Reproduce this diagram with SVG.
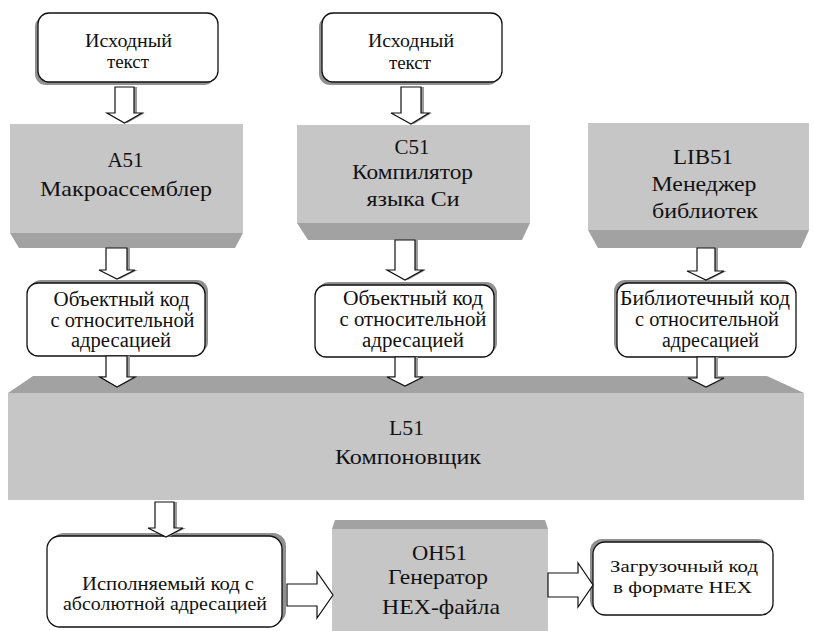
<svg xmlns="http://www.w3.org/2000/svg" width="814" height="631" viewBox="0 0 814 631" font-family="Liberation Serif, DejaVu Serif, serif">
  <defs>
    <style>
      text { font-family: 'Liberation Serif', 'DejaVu Serif', serif; fill: #111; text-anchor: middle; }
      .t19 { font-size: 19px; }
      .t20 { font-size: 20px; }
      .t21 { font-size: 21px; }
      .t17 { font-size: 17px; }
      .face { fill: #c6c6c6; }
      .bevel { fill: #a2a2a2; }
      .card { fill: #ffffff; stroke: #111; stroke-width: 1.3; }
      .shade { fill: #909090; }
      .arrow { fill: #ffffff; stroke: #111; stroke-width: 1.2; stroke-linejoin: miter; }
      .ashade { fill: #9a9a9a; }
    </style>
  </defs>
  <rect width="814" height="631" fill="#ffffff"/>

  <!-- source text, left -->
  <g id="src1">
    <rect class="shade" x="35" y="16" width="180" height="69" rx="11"/>
    <rect class="card" x="38" y="13" width="180" height="69" rx="11"/>
    <text class="t19" x="128.5" y="46.5" textLength="87" lengthAdjust="spacingAndGlyphs">Исходный</text>
    <text class="t19" x="128" y="68">текст</text>
  </g>

  <!-- source text, middle -->
  <g id="src2">
    <rect class="shade" x="319" y="16" width="180" height="69" rx="11"/>
    <rect class="card" x="322" y="13" width="180" height="69" rx="11"/>
    <text class="t19" x="411" y="47" textLength="86" lengthAdjust="spacingAndGlyphs">Исходный</text>
    <text class="t19" x="410" y="69">текст</text>
  </g>

  <!-- A51 -->
  <g id="a51">
    <rect class="face" x="10" y="124" width="233" height="109"/>
    <polygon class="bevel" points="10,233 243,233 235,248 19,248"/>
    <text class="t21" x="125.5" y="167">A51</text>
    <text class="t21" x="126" y="196" textLength="172" lengthAdjust="spacingAndGlyphs">Макроассемблер</text>
  </g>

  <!-- C51 -->
  <g id="c51">
    <rect class="face" x="297" y="125" width="233" height="98"/>
    <polygon class="bevel" points="297,223 530,223 522,240 308,240"/>
    <text class="t21" x="412" y="154">C51</text>
    <text class="t21" x="412.5" y="179" textLength="121" lengthAdjust="spacingAndGlyphs">Компилятор</text>
    <text class="t21" x="413" y="206" textLength="93" lengthAdjust="spacingAndGlyphs">языка Си</text>
  </g>

  <!-- LIB51 -->
  <g id="lib51">
    <rect class="face" x="588" y="123" width="221" height="107"/>
    <polygon class="bevel" points="588,230 809,230 801,248 598,248"/>
    <text class="t21" x="703" y="164" textLength="60" lengthAdjust="spacingAndGlyphs">LIB51</text>
    <text class="t21" x="704" y="191" textLength="105" lengthAdjust="spacingAndGlyphs">Менеджер</text>
    <text class="t21" x="705" y="218" textLength="106" lengthAdjust="spacingAndGlyphs">библиотек</text>
  </g>

  <!-- object code, left -->
  <g id="obj1">
    <rect class="shade" x="30" y="280" width="178" height="73" rx="11"/>
    <rect class="card" x="27" y="283" width="178" height="73" rx="11"/>
    <text class="t20" x="121.5" y="306" textLength="136" lengthAdjust="spacingAndGlyphs">Объектный код</text>
    <text class="t20" x="122.5" y="327" textLength="144" lengthAdjust="spacingAndGlyphs">с относительной</text>
    <text class="t20" x="121" y="347" textLength="100" lengthAdjust="spacingAndGlyphs">адресацией</text>
  </g>

  <!-- object code, middle -->
  <g id="obj2">
    <rect class="shade" x="318" y="282" width="179" height="72" rx="11"/>
    <rect class="card" x="315" y="285" width="179" height="72" rx="11"/>
    <text class="t20" x="413" y="305" textLength="140" lengthAdjust="spacingAndGlyphs">Объектный код</text>
    <text class="t20" x="413" y="326" textLength="147" lengthAdjust="spacingAndGlyphs">с относительной</text>
    <text class="t20" x="413" y="347" textLength="102" lengthAdjust="spacingAndGlyphs">адресацией</text>
  </g>

  <!-- library code -->
  <g id="libcode">
    <rect class="shade" x="614" y="280" width="179" height="74" rx="11"/>
    <rect class="card" x="617" y="283" width="179" height="74" rx="11"/>
    <text class="t20" x="705" y="305" textLength="170" lengthAdjust="spacingAndGlyphs">Библиотечный код</text>
    <text class="t20" x="707" y="326" textLength="144" lengthAdjust="spacingAndGlyphs">с относительной</text>
    <text class="t20" x="710.5" y="347" textLength="97" lengthAdjust="spacingAndGlyphs">адресацией</text>
  </g>

  <!-- L51 -->
  <g id="l51">
    <polygon class="bevel" points="33,376 767,376 804,393 8,393"/>
    <rect class="face" x="8" y="393" width="796" height="107"/>
    <text class="t21" x="406.5" y="435" textLength="35" lengthAdjust="spacingAndGlyphs">L51</text>
    <text class="t21" x="408" y="464" textLength="146" lengthAdjust="spacingAndGlyphs">Компоновщик</text>
  </g>

  <!-- executable code -->
  <g id="exec">
    <rect class="shade" x="51" y="533" width="235" height="91" rx="13"/>
    <rect class="card" x="47" y="536" width="235" height="91" rx="13"/>
    <text class="t19" x="168" y="590" textLength="172" lengthAdjust="spacingAndGlyphs">Исполняемый код с</text>
    <text class="t19" x="165" y="610" textLength="204" lengthAdjust="spacingAndGlyphs">абсолютной адресацией</text>
  </g>

  <!-- OH51 -->
  <g id="oh51">
    <polygon class="bevel" points="335,520 545,520 548,529 332,529"/>
    <rect class="face" x="332" y="529" width="216" height="102"/>
    <text class="t21" x="439.5" y="560" textLength="55" lengthAdjust="spacingAndGlyphs">OH51</text>
    <text class="t21" x="438" y="584" textLength="100" lengthAdjust="spacingAndGlyphs">Генератор</text>
    <text class="t21" x="441" y="614" textLength="118" lengthAdjust="spacingAndGlyphs">HEX-файла</text>
  </g>

  <!-- loadable code -->
  <g id="load">
    <rect class="shade" x="590" y="539" width="180" height="73" rx="12"/>
    <rect class="card" x="593" y="542" width="180" height="73" rx="12"/>
    <text class="t17" x="684" y="572" textLength="148" lengthAdjust="spacingAndGlyphs">Загрузочный код</text>
    <text class="t17" x="682.5" y="593" textLength="139" lengthAdjust="spacingAndGlyphs">в формате HEX</text>
  </g>

  <!-- hollow block arrows -->
  <g id="connectors">
    <!-- src1 -> A51 -->
    <polygon class="ashade" points="118,87 137,87 137,113 145,113 127.5,123 110,113 118,113"/>
    <polygon class="arrow" points="115,87 134,87 134,113 142,113 124.5,123 107,113 115,113"/>
    <!-- src2 -> C51 -->
    <polygon class="ashade" points="404,87 424,87 424,113 432,113 414,124 394,113 404,113"/>
    <polygon class="arrow" points="401,87 421,87 421,113 429,113 411,124 391,113 401,113"/>
    <!-- A51 -> obj1 -->
    <polygon class="ashade" points="109,248 130,248 130,270 138,270 120,279 102,270 109,270"/>
    <polygon class="arrow" points="106,248 127,248 127,270 135,270 117,279 99,270 106,270"/>
    <!-- obj1 -> L51 -->
    <polygon class="ashade" points="109,356 130,356 130,377 138,377 120,387 103,377 109,377"/>
    <polygon class="arrow" points="106,356 127,356 127,377 135,377 117,387 100,377 106,377"/>
    <!-- C51 -> obj2 -->
    <polygon class="ashade" points="398,240 418,240 418,270 426,270 408,280 390,270 398,270"/>
    <polygon class="arrow" points="395,240 415,240 415,270 423,270 405,280 387,270 395,270"/>
    <!-- obj2 -> L51 -->
    <polygon class="ashade" points="398,357 418,357 418,377 426,377 408,386 390,377 398,377"/>
    <polygon class="arrow" points="395,357 415,357 415,377 423,377 405,386 387,377 395,377"/>
    <!-- LIB51 -> library code -->
    <polygon class="ashade" points="700,248 718,248 718,271 727,271 709,280 690,271 700,271"/>
    <polygon class="arrow" points="697,248 715,248 715,271 724,271 706,280 687,271 697,271"/>
    <!-- library code -> L51 -->
    <polygon class="ashade" points="700,357 718,357 718,378 727,378 709,387 691,378 700,378"/>
    <polygon class="arrow" points="697,357 715,357 715,378 724,378 706,387 688,378 697,378"/>
    <!-- L51 -> executable -->
    <polygon class="ashade" points="158,502 177,502 177,528 186,528 169,537 151,528 158,528"/>
    <polygon class="arrow" points="155,502 174,502 174,528 183,528 166,537 148,528 155,528"/>
    <!-- executable -> OH51 -->
    <polygon class="arrow" points="287,584 317,584 317,572 333,595 317,618 317,606 287,606"/>
    <!-- OH51 -> loadable -->
    <polygon class="arrow" points="548,573 578,573 578,563 593,585 578,607 578,597 548,597"/>
  </g>
</svg>
